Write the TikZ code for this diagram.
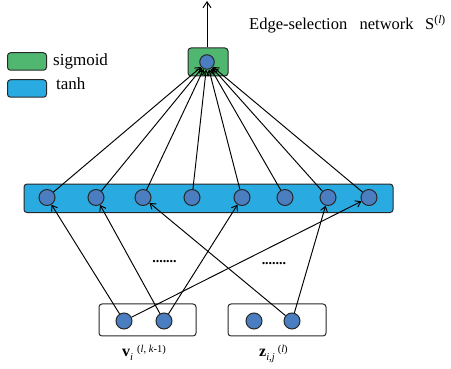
\documentclass[tikz,border=0pt]{standalone}
\usepackage{fontspec}
\setmainfont{Liberation Serif}
\usetikzlibrary{arrows.meta}
\definecolor{sigmgreen}{RGB}{80,183,112}
\definecolor{tanhblue}{RGB}{41,171,226}
\definecolor{unitblue}{RGB}{74,126,193}
\definecolor{edgegray}{RGB}{40,40,40}
\newcommand{\smallfs}{\fontsize{10.5}{11}\selectfont}
\begin{document}
\begin{tikzpicture}[x=1pt,y=-1pt,
  unit/.style={circle,draw=edgegray,fill=unitblue,line width=1pt,minimum size=16pt,inner sep=0pt},
  outunit/.style={unit,minimum size=14.5pt},
  layerbox/.style={draw=edgegray,line width=1pt,rounded corners=3pt,inner sep=0pt},
  conn/.style={-{Straight Barb[length=5pt,width=7pt]},line width=0.95pt,black},
  txt/.style={inner sep=0pt,font=\fontsize{17}{18}\selectfont}]
\useasboundingbox (0,0) rectangle (451,369);

% legend
\node[layerbox,fill=sigmgreen,minimum width=39pt,minimum height=17.5pt] (legsig) at (27,61.5) {};
\node[layerbox,fill=tanhblue,minimum width=39pt,minimum height=17.5pt] (legtanh) at (27,88.5) {};
\node[txt,anchor=base west] (sigtxt) at (53,66) {sigmoid};
\node[txt,anchor=base west] (tanhtxt) at (56,90) {tanh};

% title
\node[txt,anchor=base west,font=\fontsize{16.5}{18}\selectfont] (title) at (249,30) {Edge-selection\hspace{0.5em} network\hspace{0.45em} S\textsuperscript{(\textit{l})}};

% output layer
\node[layerbox,fill=sigmgreen,minimum width=40pt,minimum height=28pt] (outbox) at (208,62) {};
\node[outunit] (out) at (207,62) {};
\coordinate (top) at (207,1);
\draw[-{Straight Barb[length=6pt,width=8pt]},line width=0.95pt] (outbox.north -| out) -- (top);

% hidden layer
\node[layerbox,fill=tanhblue,minimum width=369pt,minimum height=28.5pt] (hidbox) at (208.5,198.3) {};
\foreach \i/\x in {1/47,2/96,3/143,4/192,5/242,6/285,7/328,8/369}{
  \node[unit] (h\i) at (\x,197.5) {};
}

% input groups
\node[layerbox,minimum width=97pt,minimum height=32pt] (vbox) at (147.5,320) {};
\node[layerbox,minimum width=98pt,minimum height=32pt] (zbox) at (277,320) {};
\node[unit] (v1) at (124,321) {};
\node[unit] (v2) at (164,321) {};
\node[unit] (z1) at (254,321) {};
\node[unit] (z2) at (292,321) {};

% labels of the input groups
\node[anchor=base west,inner sep=0pt,font=\fontsize{16}{17}\selectfont] (vlab) at (122,357)
  {\textbf{v}\raisebox{-3.5pt}{\smallfs\textit{i}}\hspace{4pt}\raisebox{5pt}{\smallfs(\textit{l}, \textit{k}-1)}};
\node[anchor=base west,inner sep=0pt,font=\fontsize{16}{17}\selectfont] (zlab) at (259,357)
  {\textbf{z}\raisebox{-3.5pt}{\smallfs\textit{i,j}}\hspace{3pt}\raisebox{5pt}{\smallfs(\textit{l})}};

% ellipsis dots
\node[inner sep=0pt,font=\fontsize{14}{14}\selectfont\bfseries] (dots1) at (164.5,262) {.......};
\node[inner sep=0pt,font=\fontsize{14}{14}\selectfont\bfseries] (dots2) at (274,263.5) {.......};

% hidden -> output
\foreach \i in {1,...,8}{
  \draw[conn] (h\i) -- (out);
}

% inputs -> hidden
\draw[conn] (v1) -- (h1);
\draw[conn] (v2) -- (h2);
\draw[conn] (z2) -- (h3);
\draw[conn] (v2) -- (h5);
\draw[conn] (z2) -- (h7);
\draw[conn] (v1) -- (h8);
\end{tikzpicture}
\end{document}
